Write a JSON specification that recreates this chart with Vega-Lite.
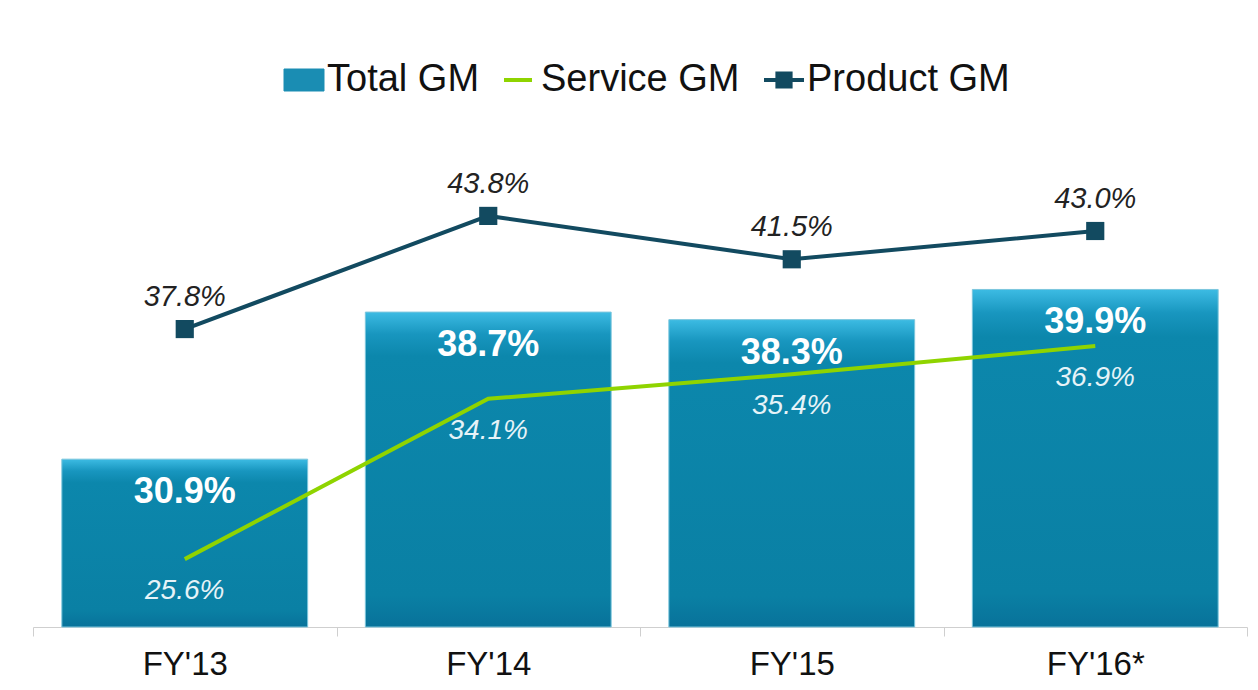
{
  "$schema": "https://vega.github.io/schema/vega-lite/v6.json",
  "width": 1214,
  "height": 528,
  "autosize": {"type": "none"},
  "padding": {"left": 33, "top": 99, "right": 11, "bottom": 63},
  "background": "white",
  "config": {"font": "Liberation Sans", "view": {"stroke": null}},
  "data": {
    "values": [
      {"year": "FY'13", "series": "Total GM", "value": 0.309},
      {"year": "FY'14", "series": "Total GM", "value": 0.387},
      {"year": "FY'15", "series": "Total GM", "value": 0.383},
      {"year": "FY'16*", "series": "Total GM", "value": 0.399},
      {"year": "FY'13", "series": "Service GM", "value": 0.256},
      {"year": "FY'14", "series": "Service GM", "value": 0.341},
      {"year": "FY'15", "series": "Service GM", "value": 0.354},
      {"year": "FY'16*", "series": "Service GM", "value": 0.369},
      {"year": "FY'13", "series": "Product GM", "value": 0.378},
      {"year": "FY'14", "series": "Product GM", "value": 0.438},
      {"year": "FY'15", "series": "Product GM", "value": 0.415},
      {"year": "FY'16*", "series": "Product GM", "value": 0.430}
    ]
  },
  "encoding": {
    "x": {
      "field": "year", "type": "nominal", "sort": null,
      "scale": {"paddingInner": 0, "paddingOuter": 0},
      "axis": {
        "title": null, "labelAngle": 0, "labelFontSize": 33, "labelColor": "#111111",
        "labelPadding": 12, "domainColor": "#cfcfcf", "tickColor": "#cfcfcf",
        "tickSize": 9, "tickBand": "extent", "grid": false
      }
    },
    "y": {
      "field": "value", "type": "quantitative",
      "scale": {"domain": [0.22, 0.50], "zero": false, "nice": false},
      "axis": null
    }
  },
  "layer": [
    {
      "transform": [{"filter": "datum.series === 'Total GM'"}],
      "mark": {
        "type": "bar",
        "width": {"band": 0.81},
        "fill": {
          "gradient": "linear", "x1": 0, "y1": 0, "x2": 0, "y2": 1,
          "stops": [
            {"offset": 0, "color": "#3cbbe3"},
            {"offset": 0.07, "color": "#1896bf"},
            {"offset": 0.14, "color": "#0c87ac"},
            {"offset": 0.9, "color": "#0a80a4"},
            {"offset": 1, "color": "#08729a"}
          ]
        },
        "stroke": "#7cc6dd",
        "strokeWidth": 1
      },
      "encoding": {"y2": {"datum": 0.22}}
    },
    {
      "transform": [{"filter": "datum.series === 'Total GM'"}],
      "mark": {"type": "text", "baseline": "middle", "dy": 33, "fontSize": 36, "fontWeight": "bold", "color": "white"},
      "encoding": {"text": {"field": "value", "type": "quantitative", "format": ".1%"}}
    },
    {
      "transform": [{"filter": "datum.series !== 'Total GM'"}],
      "mark": {"type": "line", "strokeWidth": 4},
      "encoding": {
        "color": {
          "field": "series", "type": "nominal",
          "scale": {"domain": ["Total GM", "Service GM", "Product GM"], "range": ["#1a8db3", "#8fd400", "#124a60"]},
          "legend": {
            "orient": "none", "legendX": 252, "legendY": -38, "direction": "horizontal",
            "title": null, "labelFontSize": 38, "labelColor": "#111111", "labelOffset": 4,
            "labelLimit": 500, "columnPadding": 16, "symbolSize": 1600, "symbolStrokeWidth": 4,
            "encode": {
              "symbols": {
                "update": {
                  "shape": {"signal": "datum.value === 'Total GM' ? 'M-1,-0.55H1V0.55H-1Z' : datum.value === 'Service GM' ? 'M-0.7,0H0.7' : 'M-1,0H1M-0.33,-0.33H0.33V0.33H-0.33Z'"},
                  "fill": {"signal": "datum.value === 'Total GM' ? '#1a8db3' : datum.value === 'Service GM' ? 'transparent' : '#124a60'"},
                  "stroke": {"signal": "datum.value === 'Total GM' ? '#5cbcd9' : datum.value === 'Service GM' ? '#8fd400' : '#124a60'"},
                  "strokeWidth": {"signal": "datum.value === 'Total GM' ? 1 : 4"},
                  "opacity": {"value": 1},
                  "size": {"value": 1600}
                }
              }
            }
          }
        }
      }
    },
    {
      "transform": [{"filter": "datum.series === 'Product GM'"}],
      "mark": {"type": "point", "shape": "square", "filled": true, "size": 330, "color": "#124a60", "opacity": 1}
    },
    {
      "transform": [{"filter": "datum.series === 'Service GM'"}],
      "mark": {"type": "text", "baseline": "middle", "dy": 32, "fontSize": 28, "fontStyle": "italic", "color": "#e6f3f8"},
      "encoding": {"text": {"field": "value", "type": "quantitative", "format": ".1%"}}
    },
    {
      "transform": [{"filter": "datum.series === 'Product GM'"}],
      "mark": {"type": "text", "baseline": "middle", "dy": -32, "fontSize": 29, "fontStyle": "italic", "color": "#222222"},
      "encoding": {"text": {"field": "value", "type": "quantitative", "format": ".1%"}}
    }
  ]
}
